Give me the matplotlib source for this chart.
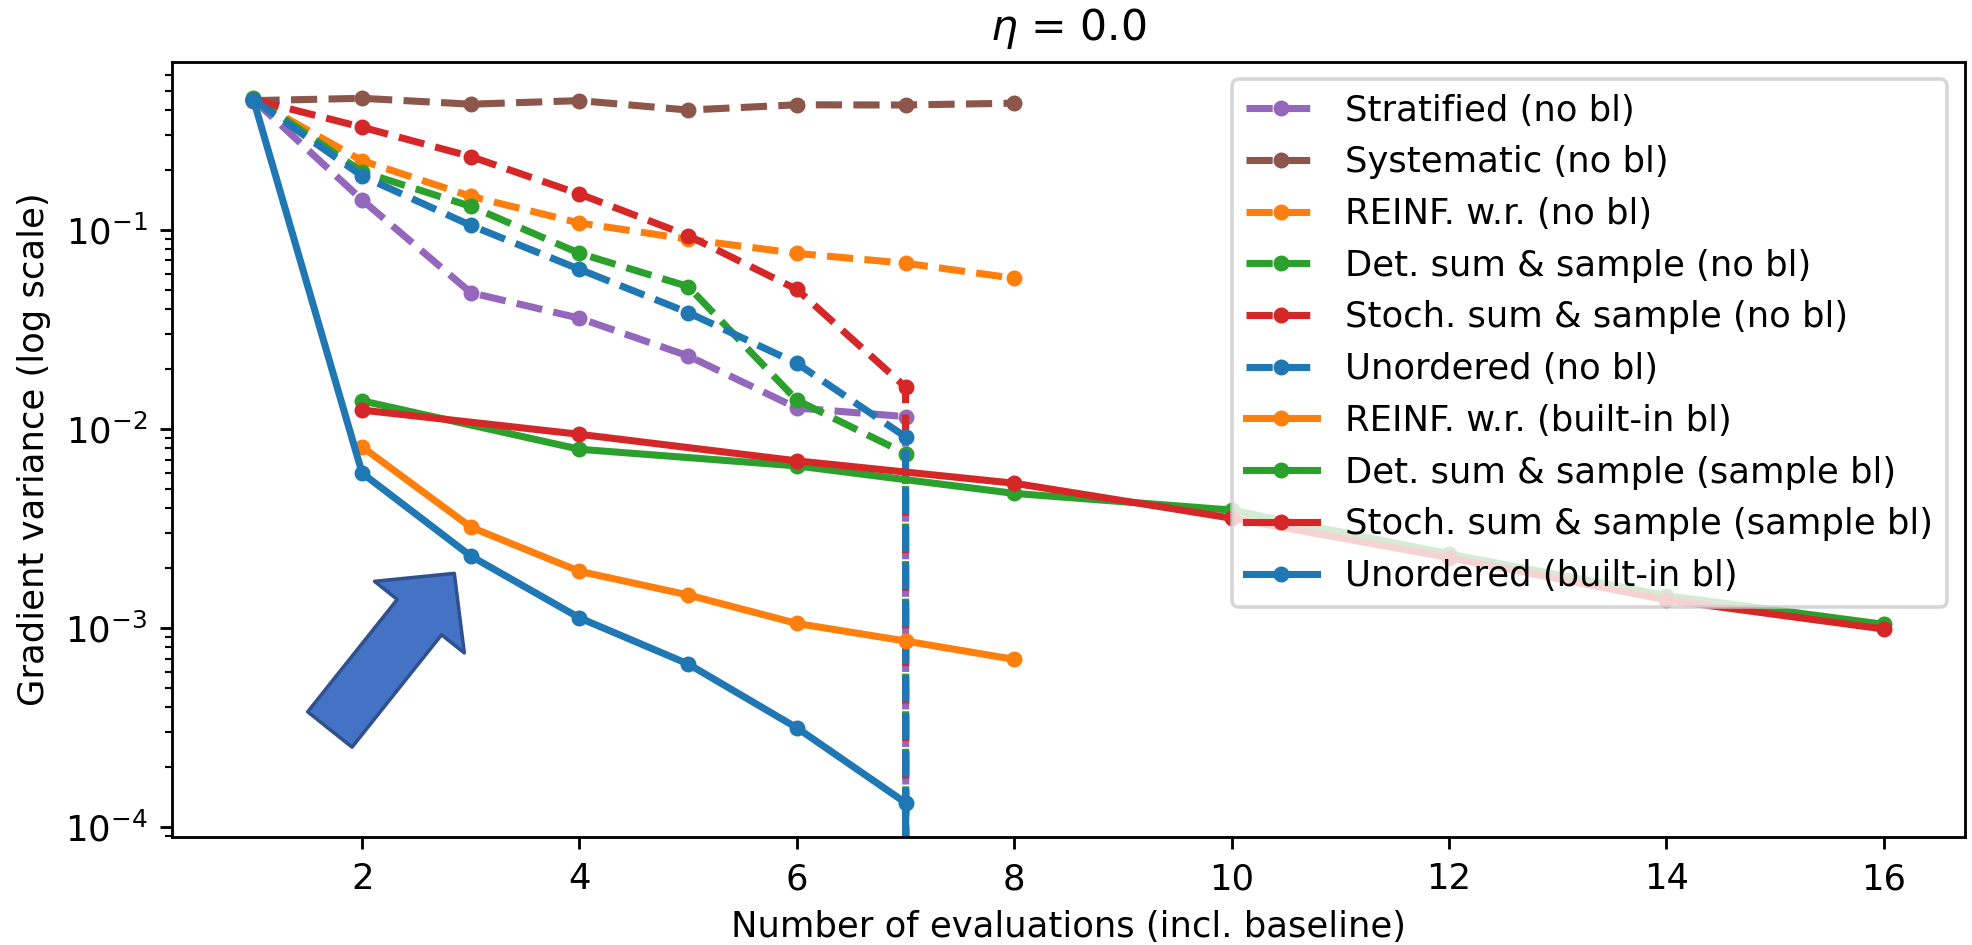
import numpy as np
import matplotlib
matplotlib.use("Agg")
import matplotlib.pyplot as plt

# number of evaluations
x_small = [1, 2, 3, 4, 5, 6, 7, 8]
x_bl = [2, 3, 4, 5, 6, 7, 8]
x_sample_bl = [2, 4, 6, 8, 10, 12, 14, 16]

# gradient variance (0 = exact gradient)
stratified = [0.45, 0.141, 0.0482, 0.0359, 0.0232, 0.0127, 0.0115, 0.0]
systematic = [0.445, 0.457, 0.427, 0.445, 0.399, 0.424, 0.423, 0.432]
reinf_wr = [0.45, 0.222, 0.147, 0.108, 0.0895, 0.076, 0.0678, 0.057]
det_ss = [0.46, 0.195, 0.131, 0.076, 0.0518, 0.0139, 0.0075, 0.0]
stoch_ss = [0.45, 0.327, 0.233, 0.151, 0.0933, 0.0501, 0.0162, 0.0]
unordered = [0.45, 0.186, 0.105, 0.0632, 0.0383, 0.0213, 0.0091, 0.0]

reinf_wr_bl = [0.0081, 0.0032, 0.00192, 0.00146, 0.00105, 0.000857, 0.000693]
det_ss_bl = [0.0138, 0.00788, 0.0065, 0.00473, 0.0039, 0.00235, 0.00145, 0.00104]
stoch_ss_bl = [0.0124, 0.00937, 0.00689, 0.00532, 0.00355, 0.00225, 0.00138, 0.000985]
unordered_bl = [0.45, 0.00598, 0.00229, 0.00112, 0.000657, 0.000314, 0.000132, 0.0]

eta = 0.0

DPI = 255
fig = plt.figure(figsize=(1972 / DPI, 945 / DPI), dpi=DPI)
ax = fig.add_axes([0.0872, 0.114, 0.9093, 0.8207])

lw = 2
ms = 3.5
ax.plot(x_small, stratified, '--o', color='C4', lw=lw, ms=ms, label='Stratified (no bl)')
ax.plot(x_small, systematic, '--o', color='C5', lw=lw, ms=ms, label='Systematic (no bl)')
ax.plot(x_small, reinf_wr, '--o', color='C1', lw=lw, ms=ms, label='REINF. w.r. (no bl)')
ax.plot(x_small, det_ss, '--o', color='C2', lw=lw, ms=ms, label='Det. sum & sample (no bl)')
ax.plot(x_small, stoch_ss, '--o', color='C3', lw=lw, ms=ms, label='Stoch. sum & sample (no bl)')
ax.plot(x_small, unordered, '--o', color='C0', lw=lw, ms=ms, label='Unordered (no bl)')
ax.plot(x_bl, reinf_wr_bl, '-o', color='C1', lw=lw, ms=ms, label='REINF. w.r. (built-in bl)')
ax.plot(x_sample_bl, det_ss_bl, '-o', color='C2', lw=lw, ms=ms, label='Det. sum & sample (sample bl)')
ax.plot(x_sample_bl, stoch_ss_bl, '-o', color='C3', lw=lw, ms=ms, label='Stoch. sum & sample (sample bl)')
ax.plot(x_small, unordered_bl, '-o', color='C0', lw=lw, ms=ms, label='Unordered (built-in bl)')

ax.set_yscale('log')
ax.set_xlim(0.25, 16.75)
ax.set_ylim(8.85e-5, 0.698)
ax.set_title(r'$\eta$ = {}'.format(eta))
ax.set_xlabel('Number of evaluations (incl. baseline)')
ax.set_ylabel('Gradient variance (log scale)')
ax.legend(loc='upper right')

# the big blue arrow pointing at the built-in baseline curves
ax.annotate('', xy=(2.848, 1.875e-3), xytext=(1.703, 3.08e-4),
            arrowprops=dict(arrowstyle='simple,head_length=0.79,head_width=1.62,tail_width=0.8',
                            mutation_scale=20, fc='#4472C4', ec='#2F528F', lw=1,
                            shrinkA=0, shrinkB=0),
            zorder=5)

fig.savefig('out.png', dpi=DPI)
